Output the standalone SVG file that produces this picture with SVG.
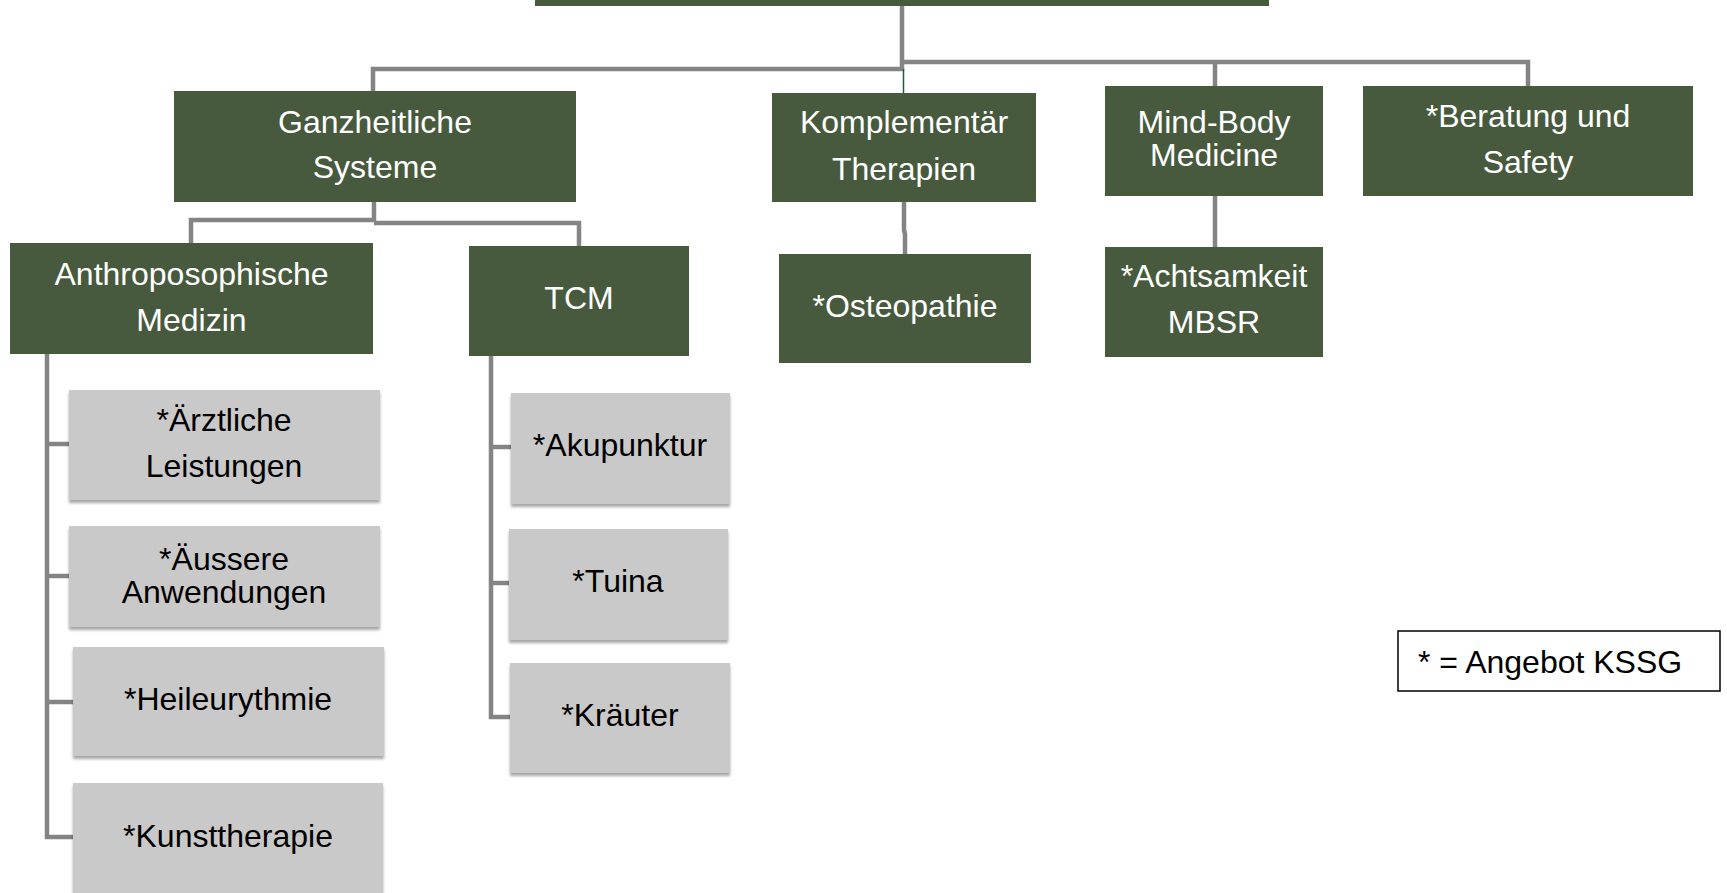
<svg xmlns="http://www.w3.org/2000/svg" width="1727" height="893" viewBox="0 0 1727 893">
<defs>
<style>
.g{fill:#475A3E}
.s{fill:#C9C9C9;filter:url(#sh)}
.tw{font-family:"Liberation Sans",Arial,sans-serif;font-size:32px;fill:#FFFFFF;text-anchor:middle}
.tb{font-family:"Liberation Sans",Arial,sans-serif;font-size:32px;fill:#000000;text-anchor:middle}
.c{fill:none;stroke:#848484;stroke-width:4.5;stroke-linejoin:miter}
</style>
<filter id="sh" x="-5%" y="-10%" width="110%" height="125%">
<feDropShadow dx="0" dy="3" stdDeviation="1.8" flood-color="#000" flood-opacity="0.35"/>
</filter>
</defs>
<rect width="1727" height="893" fill="#FFFFFF"/>
<g id="connectors">
<path class="c" d="M902,6 V69 H373 V91"/>
<path class="c" d="M902,62 H1528 V86"/>
<path class="c" d="M1215,62 V86"/>
<path d="M903.5,69 V93" stroke="#1E5A3A" stroke-width="1.5" fill="none"/>
<path class="c" d="M374,202 V222"/>
<path class="c" d="M374,220 H191 V243"/>
<path class="c" d="M374,223 H579 V246"/>
<path class="c" d="M904,202 V230 L905,234 V254"/>
<path class="c" d="M1215,196 V247"/>
<path class="c" d="M47,354 V837 H73"/>
<path class="c" d="M47,444 H69"/>
<path class="c" d="M47,576 H69"/>
<path class="c" d="M47,702 H73"/>
<path class="c" d="M491,356 V717 H511"/>
<path class="c" d="M491,447 H511"/>
<path class="c" d="M491,583 H509"/>
</g>
<g id="top"><rect class="g" x="535" y="-40" width="734" height="46"/></g>
<g id="ganzheitliche"><rect class="g" x="174" y="91" width="402" height="111"/><text class="tw" x="375" y="133">Ganzheitliche</text><text class="tw" x="375" y="178">Systeme</text></g>
<g id="komplementaer"><rect class="g" x="772" y="93" width="264" height="109"/><text class="tw" x="904" y="133">Komplementär</text><text class="tw" x="904" y="180">Therapien</text></g>
<g id="mindbody"><rect class="g" x="1105" y="86" width="218" height="110"/><text class="tw" x="1214" y="133">Mind-Body</text><text class="tw" x="1214" y="166">Medicine</text></g>
<g id="beratung"><rect class="g" x="1363" y="86" width="330" height="110"/><text class="tw" x="1528" y="127">*Beratung und</text><text class="tw" x="1528" y="173">Safety</text></g>
<g id="anthroposophische"><rect class="g" x="10" y="243" width="363" height="111"/><text class="tw" x="191.5" y="285">Anthroposophische</text><text class="tw" x="191.5" y="331">Medizin</text></g>
<g id="tcm"><rect class="g" x="469" y="246" width="220" height="110"/><text class="tw" x="579" y="309">TCM</text></g>
<g id="osteopathie"><rect class="g" x="779" y="254" width="252" height="109"/><text class="tw" x="905" y="317">*Osteopathie</text></g>
<g id="achtsamkeit"><rect class="g" x="1105" y="247" width="218" height="110"/><text class="tw" x="1214" y="287">*Achtsamkeit</text><text class="tw" x="1214" y="333">MBSR</text></g>
<g id="aerztliche"><rect class="s" x="69" y="390" width="311" height="110"/><text class="tb" x="224" y="431">*Ärztliche</text><text class="tb" x="224" y="477">Leistungen</text></g>
<g id="aeussere"><rect class="s" x="69" y="526" width="311" height="101"/><text class="tb" x="224" y="570">*Äussere</text><text class="tb" x="224" y="603">Anwendungen</text></g>
<g id="heileurythmie"><rect class="s" x="73" y="647" width="311" height="109"/><text class="tb" x="228" y="710">*Heileurythmie</text></g>
<g id="kunsttherapie"><rect class="s" x="73" y="783" width="310" height="130"/><text class="tb" x="228" y="847">*Kunsttherapie</text></g>
<g id="akupunktur"><rect class="s" x="511" y="393" width="219" height="111"/><text class="tb" x="620" y="456">*Akupunktur</text></g>
<g id="tuina"><rect class="s" x="509" y="529" width="219" height="111"/><text class="tb" x="618" y="592">*Tuina</text></g>
<g id="kraeuter"><rect class="s" x="510" y="663" width="220" height="110"/><text class="tb" x="620" y="726">*Kräuter</text></g>
<g id="legend"><rect x="1398" y="631" width="322" height="60" fill="#FFFFFF" stroke="#000000" stroke-width="1.5"/><text x="1418" y="673" font-family="'Liberation Sans',Arial,sans-serif" font-size="32" fill="#000000">* = Angebot KSSG</text></g>
</svg>
